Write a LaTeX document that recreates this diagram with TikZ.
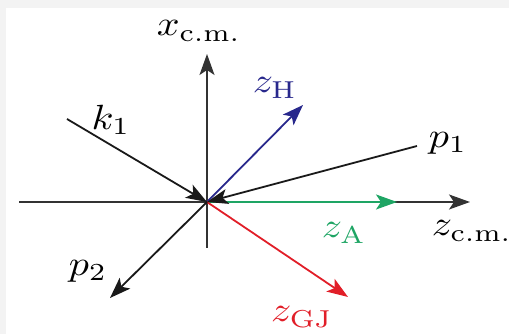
\documentclass[tikz,border=0pt]{standalone}
\usetikzlibrary{arrows.meta}
\definecolor{hblue}{RGB}{40,40,140}
\definecolor{agreen}{RGB}{30,165,100}
\definecolor{gjred}{RGB}{225,30,40}
\definecolor{edgegray}{RGB}{243,243,243}
\newcommand\hstretch[1]{\scalebox{4.0}[3.5]{#1}}
\begin{document}
\begin{tikzpicture}[x=1pt,y=1pt,
  vec/.style={line width=1.8pt, -{Stealth[length=21pt,width=15pt,inset=5pt]}},
  lab/.style={inner sep=0pt}]
\useasboundingbox (0,0) rectangle (509,334);
\fill[edgegray] (0,0) rectangle (6,334);
\fill[edgegray] (0,326) rectangle (509,334);
% points
\coordinate (O) at (207,132);
\coordinate (zl) at (19,132);
\coordinate (zr) at (470,132);
\coordinate (xb) at (207,86);
\coordinate (xt) at (207,280);
\coordinate (k1s) at (67,215);
\coordinate (p1s) at (417,188);
\coordinate (zHt) at (303,229);
\coordinate (zAt) at (397,132);
\coordinate (zGJt) at (348,37);
\coordinate (p2t) at (110,36);
% axes
\draw[vec, black!80] (zl) -- (zr);
\draw[vec, black!80] (xb) -- (xt);
% vectors
\draw[vec, agreen] (O) -- (zAt);
\draw[vec, hblue] (O) -- (zHt);
\draw[vec, gjred] (O) -- (zGJt);
\draw[vec, black!90] (O) -- (p2t);
\draw[vec, black!90] (k1s) -- (O);
\draw[vec, black!90] (p1s) -- (O);
% labels
\node[lab] (lx) at (199,303) {\hstretch{$x_{\mathrm{c.m.}}$}};
\node[lab] (lz) at (472,103) {\hstretch{$z_{\mathrm{c.m.}}$}};
\node[lab, text=hblue] (lH) at (275,246) {\hstretch{$z_{\mathrm{H}}$}};
\node[lab, text=agreen] (lA) at (344,101) {\hstretch{$z_{\mathrm{A}}$}};
\node[lab, text=gjred] (lGJ) at (302,17) {\hstretch{$z_{\mathrm{GJ}}$}};
\node[lab] (lk) at (111,214) {\hstretch{$k_1$}};
\node[lab] (lp1) at (448,191) {\hstretch{$p_1$}};
\node[lab] (lp2) at (88,63) {\hstretch{$p_2$}};
\end{tikzpicture}
\end{document}
